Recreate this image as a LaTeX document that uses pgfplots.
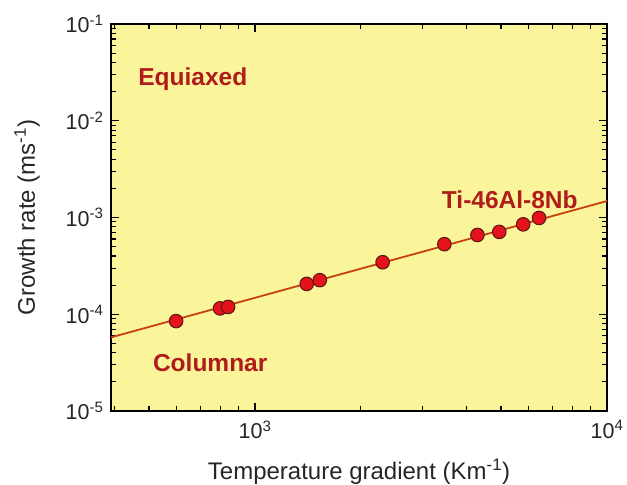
\documentclass[border=0pt]{standalone}
\usepackage{fontspec}
\setmainfont{Liberation Sans}
\usepackage{pgfplots}
\pgfplotsset{compat=1.18}

\definecolor{bgyellow}{HTML}{FAF59A}
\definecolor{fitline}{HTML}{C8400E}
\definecolor{markred}{HTML}{E3121B}
\definecolor{markedge}{HTML}{5A1610}
\definecolor{annot}{HTML}{B01C1C}

\begin{document}
\begin{tikzpicture}
\begin{axis}[
  xmode=log, ymode=log,
  scale only axis, width=496pt, height=387pt,
  xmin=390, xmax=10000, ymin=1e-5, ymax=1e-1,
  axis background/.style={fill=bgyellow},
  axis line style={line width=1.3pt},
  tick style={line width=1.1pt, black},
  major tick length=8pt, minor tick length=5pt,
  tick align=inside,
  xtick={1000,10000},
  xticklabels={10\textsuperscript{3},10\textsuperscript{4}},
  minor xtick={400,500,600,700,800,900,2000,3000,4000,5000,6000,7000,8000,9000},
  ytick={1e-5,1e-4,1e-3,1e-2,1e-1},
  yticklabels={10\textsuperscript{-5},10\textsuperscript{-4},10\textsuperscript{-3},10\textsuperscript{-2},10\textsuperscript{-1}},
  minor ytick={2e-5,3e-5,4e-5,5e-5,6e-5,7e-5,8e-5,9e-5,
               2e-4,3e-4,4e-4,5e-4,6e-4,7e-4,8e-4,9e-4,
               2e-3,3e-3,4e-3,5e-3,6e-3,7e-3,8e-3,9e-3,
               2e-2,3e-2,4e-2,5e-2,6e-2,7e-2,8e-2,9e-2},
  ticklabel style={font=\fontsize{21.5}{25}\selectfont, text=black!85},
  xticklabel style={yshift=-6pt},
  yticklabel style={xshift=-4pt},
  xlabel={Temperature gradient (Km\textsuperscript{-1})},
  ylabel={Growth rate (ms\textsuperscript{-1})},
  every axis x label/.style={at={(axis description cs:0.5,-0.176)}, anchor=base,
    font=\fontsize{24}{28}\selectfont, text=black!85},
  every axis y label/.style={at={(axis description cs:-0.169,0.5)}, anchor=center, rotate=90,
    font=\fontsize{24}{28}\selectfont, text=black!85},
  clip=false,
]
% fitted line, V proportional to G
\addplot[fitline, line width=1.8pt] coordinates {(390,5.77e-5) (10000,1.48e-3)};
% measured points
\addplot[only marks, mark=*, mark size=6.8pt,
  mark options={fill=markred, draw=markedge, line width=1pt}] coordinates {
  (597,8.5e-5) (796,1.15e-4) (839,1.19e-4) (1403,2.06e-4) (1528,2.25e-4)
  (2305,3.45e-4) (3451,5.3e-4) (4285,6.6e-4) (4943,7.1e-4) (5780,8.5e-4) (6413,9.9e-4)
};
\node[annot, font=\bfseries\fontsize{24.5}{28}\selectfont] at (rel axis cs:0.165,0.858) {Equiaxed};
\node[annot, font=\bfseries\fontsize{24.5}{28}\selectfont] at (rel axis cs:0.2,0.124) {Columnar};
\node[annot, font=\bfseries\fontsize{24.5}{28}\selectfont] at (rel axis cs:0.804,0.545) {Ti-46Al-8Nb};
\end{axis}
\pgfresetboundingbox
\path ([xshift=-111pt,yshift=-73pt]current axis.south west) rectangle ([xshift=20pt,yshift=24pt]current axis.north east);
\end{tikzpicture}
\end{document}
